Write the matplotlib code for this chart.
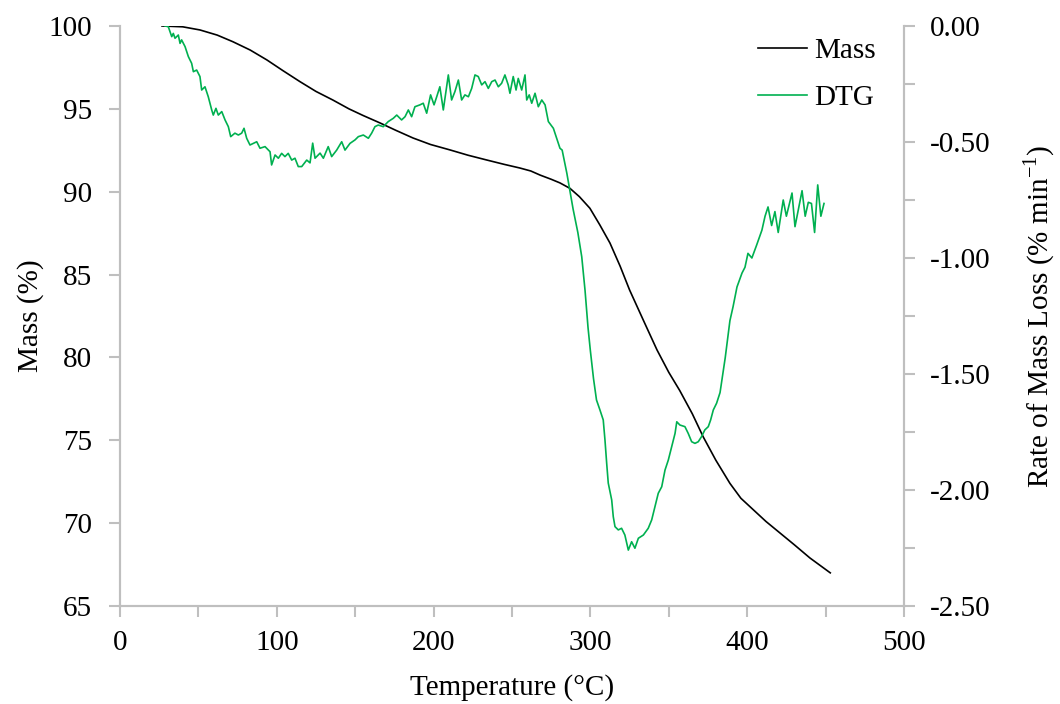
import numpy as np
import matplotlib
matplotlib.use('Agg')
import matplotlib.pyplot as plt
from matplotlib.ticker import MultipleLocator, FormatStrFormatter

plt.rcParams['font.family'] = ['Liberation Serif', 'DejaVu Serif']
plt.rcParams['mathtext.fontset'] = 'custom'
plt.rcParams['mathtext.rm'] = 'Liberation Serif'
plt.rcParams['axes.unicode_minus'] = False

# Mass curve
mass_temp = [26.8, 40, 51, 62, 72, 83, 93.7, 104, 114.8, 125, 135.8, 146, 155, 165.8, 176,
             186.9, 198, 210.5, 222, 234, 245, 255, 262, 268, 275, 280.6, 287, 293, 299.7,
             306, 312.5, 319, 325, 334, 342.5, 350, 357, 365, 372, 380, 389, 396, 404,
             412, 421, 430, 440, 453]
mass_pct = [100.0, 99.95, 99.76, 99.45, 99.05, 98.55, 97.95, 97.3, 96.64, 96.05, 95.53, 95.0,
            94.6, 94.15, 93.7, 93.24, 92.85, 92.52, 92.2, 91.91, 91.65, 91.43, 91.25, 91.0,
            90.75, 90.53, 90.2, 89.7, 89.0, 88.0, 86.9, 85.5, 84.07, 82.2, 80.45, 79.1, 78.0,
            76.6, 75.2, 73.8, 72.4, 71.5, 70.8, 70.1, 69.4, 68.7, 67.9, 67.0]

# DTG curve
dtg_temp = [28.7, 30.8, 31.9, 33, 34, 35.1, 37.2, 38.3, 39.3, 41.5, 43.6, 45.7, 46.8, 48.9,
            51, 52.1, 54.2, 56.3, 58.5, 59.5, 61.2, 62.7, 64.9, 67, 69.1, 70.6, 73.3, 75.5,
            77.6, 79.1, 80.8, 82.9, 85, 87.2, 89.3, 92.5, 95.7, 96.7, 98.9, 101, 103.1, 105.2,
            107.3, 109.5, 111.6, 113.7, 115.9, 119.1, 121.2, 122.9, 124.4, 127.6, 129.7,
            132.8, 135, 138.2, 141.4, 143.5, 146.7, 149.9, 152, 155.2, 158.4, 160.5, 162.6,
            164.7, 167.9, 171.1, 174.3, 176.5, 179.6, 181.8, 183.9, 186, 188.1, 191.3, 193.4,
            195.6, 198.1, 200.3, 202, 204, 206.2, 209.4, 211.5, 213.6, 215.8, 217.9, 220,
            222.2, 224.3, 226.4, 228.5, 230.7, 232.8, 234.9, 237.1, 239.2, 241.3, 243.4,
            245.5, 247.6, 248.7, 250.8, 252.6, 254, 256.2, 258.3, 259.4, 261, 262.6, 264.7,
            266.8, 269, 271.1, 273.2, 276.4, 280.6, 282, 285, 289, 292, 294.5, 296.6, 298.5,
            300, 302, 303.9, 306.1, 308.2, 309.3, 310.4, 311.4, 313.6, 314.6, 315.7, 317.8,
            319.9, 322, 324.2, 326.3, 328.4, 330.6, 333.8, 336.9, 339.1, 341.2, 343.3, 345.5,
            347.6, 349.7, 351.9, 354, 355.1, 357.1, 360.3, 362.4, 364.6, 366.7, 368.8, 370.9,
            373, 375.2, 376.7, 378.4, 380.5, 382.7, 386, 389, 391, 393.5, 396.7, 398.6, 400.5,
            403, 406, 409.4, 411.4, 413.3, 415.6, 417.7, 419.8, 423, 425, 428.6, 430.5, 435,
            437, 439, 441, 443, 445, 447, 449]
dtg_rate = [0.0, -0.003, -0.025, -0.046, -0.032, -0.053, -0.039, -0.075, -0.06, -0.089, -0.132,
            -0.161, -0.197, -0.19, -0.218, -0.276, -0.262, -0.305, -0.362, -0.384, -0.355,
            -0.384, -0.369, -0.405, -0.434, -0.477, -0.462, -0.47, -0.462, -0.441, -0.484,
            -0.513, -0.506, -0.499, -0.527, -0.52, -0.542, -0.599, -0.556, -0.57, -0.549,
            -0.563, -0.549, -0.578, -0.57, -0.606, -0.606, -0.578, -0.59, -0.505, -0.57,
            -0.548, -0.57, -0.52, -0.563, -0.535, -0.499, -0.535, -0.506, -0.491, -0.477,
            -0.47, -0.484, -0.462, -0.434, -0.427, -0.434, -0.412, -0.398, -0.384, -0.405,
            -0.391, -0.362, -0.391, -0.348, -0.34, -0.333, -0.376, -0.297, -0.34, -0.305,
            -0.262, -0.362, -0.211, -0.319, -0.283, -0.233, -0.319, -0.297, -0.305, -0.269,
            -0.211, -0.218, -0.254, -0.24, -0.269, -0.24, -0.233, -0.262, -0.247, -0.211,
            -0.254, -0.29, -0.218, -0.276, -0.226, -0.276, -0.211, -0.319, -0.297, -0.333,
            -0.29, -0.348, -0.319, -0.34, -0.412, -0.441, -0.527, -0.535, -0.635, -0.79,
            -0.89, -0.995, -1.14, -1.30, -1.40, -1.52, -1.612, -1.655, -1.698, -1.784, -1.885,
            -1.97, -2.043, -2.115, -2.158, -2.172, -2.165, -2.194, -2.259, -2.223, -2.251,
            -2.208, -2.194, -2.165, -2.129, -2.072, -2.014, -1.986, -1.914, -1.871, -1.813,
            -1.756, -1.706, -1.72, -1.727, -1.756, -1.792, -1.799, -1.792, -1.77, -1.741,
            -1.727, -1.698, -1.655, -1.626, -1.58, -1.43, -1.27, -1.21, -1.125, -1.065,
            -1.04, -0.98, -1.00, -0.945, -0.88, -0.82, -0.78, -0.86, -0.80, -0.89, -0.75,
            -0.82, -0.72, -0.865, -0.71, -0.82, -0.76, -0.765, -0.89, -0.685, -0.82, -0.765]

grey = '#bfbfbf'
fs = 21
fig = plt.figure(figsize=(10.6, 7.04), dpi=100)
ax = fig.add_axes([0.1132, 0.1392, 0.7396, 0.8239])
ax2 = ax.twinx()

l1, = ax.plot(mass_temp, mass_pct, color='black', lw=1.2, label='Mass')
l2, = ax2.plot(dtg_temp, dtg_rate, color='#00b050', lw=1.2, label='DTG')

ax.set_xlim(0, 500)
ax.set_ylim(65, 100)
ax2.set_ylim(-2.5, 0)

ax.xaxis.set_major_locator(MultipleLocator(100))
ax.xaxis.set_minor_locator(MultipleLocator(50))
ax.yaxis.set_major_locator(MultipleLocator(5))
ax2.yaxis.set_major_locator(MultipleLocator(0.5))
ax2.yaxis.set_minor_locator(MultipleLocator(0.25))
ax2.yaxis.set_major_formatter(FormatStrFormatter('%.2f'))

for a in (ax, ax2):
    a.spines['top'].set_visible(False)
    for s in ('left', 'right', 'bottom'):
        a.spines[s].set_color(grey)
        a.spines[s].set_linewidth(1.5)
    a.tick_params(which='both', direction='out', color=grey, width=1.5, length=8,
                  labelsize=fs, labelcolor='black')

ax.tick_params(axis='y', pad=12)
ax.tick_params(axis='x', pad=9)
ax2.tick_params(axis='y', pad=11)

ax.set_xlabel('Temperature (°C)', fontsize=fs, labelpad=13)
ax.set_ylabel('Mass (%)', fontsize=fs, labelpad=3)
ax2.set_ylabel('Rate of Mass Loss (% min$^{\\mathrm{-1}}$)', fontsize=fs, labelpad=22)

ax2.legend(handles=[l1, l2], loc='upper right', bbox_to_anchor=(0.998, 1.025), frameon=False,
           fontsize=fs, handlelength=1.7, handletextpad=0.25, labelspacing=0.7)

fig.savefig('out.png', dpi=100)
